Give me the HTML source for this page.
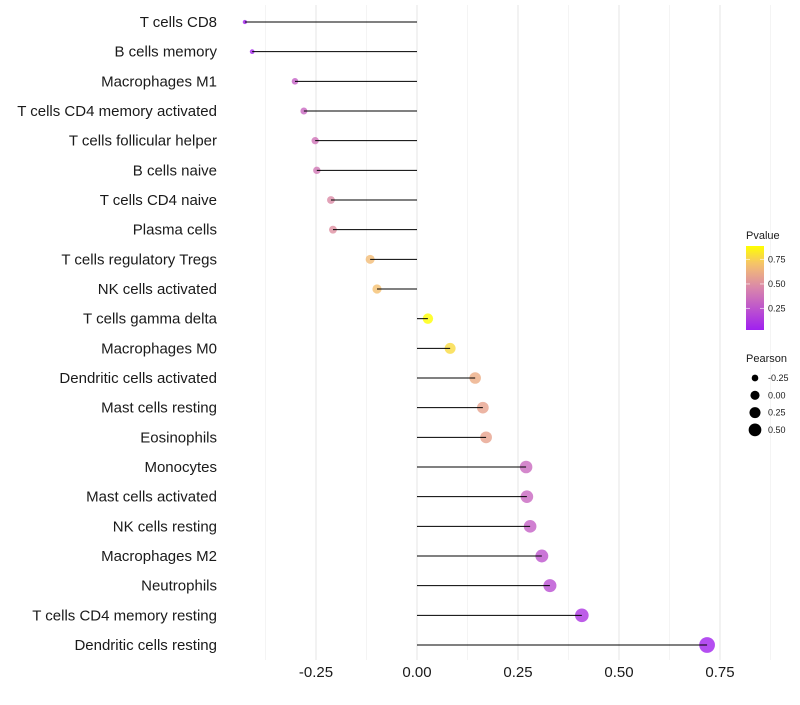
<!DOCTYPE html>
<html><head><meta charset="utf-8"><style>
body{margin:0;background:#fff;font-family:"Liberation Sans",sans-serif}
svg text{font-family:"Liberation Sans",sans-serif}
</style></head><body>
<svg id="chart" width="800" height="700"></svg>
<script>
const categories=["T cells CD8","B cells memory","Macrophages M1","T cells CD4 memory activated","T cells follicular helper","B cells naive","T cells CD4 naive","Plasma cells","T cells regulatory  Tregs ","NK cells activated","T cells gamma delta","Macrophages M0","Dendritic cells activated","Mast cells resting","Eosinophils","Monocytes","Mast cells activated","NK cells resting","Macrophages M2","Neutrophils","T cells CD4 memory resting","Dendritic cells resting"];
const pearson=[-0.426,-0.408,-0.302,-0.28,-0.252,-0.248,-0.213,-0.208,-0.116,-0.099,0.027,0.082,0.144,0.163,0.171,0.27,0.272,0.28,0.309,0.329,0.408,0.718];
const pvalue=[0.04,0.06,0.3,0.33,0.38,0.4,0.48,0.5,0.68,0.7,0.89,0.78,0.62,0.58,0.58,0.34,0.33,0.3,0.25,0.22,0.12,0.04];
const xTicks=[-0.25,0,0.25,0.5,0.75];
const xTickLabels=["-0.25","0.00","0.25","0.50","0.75"];
const legendP=[0.25,0.5,0.75];
const legendPearson=[-0.25,0,0.25,0.5];

const NS="http://www.w3.org/2000/svg";
const svg=document.getElementById('chart');
function mk(t,a,p){const e=document.createElementNS(NS,t);for(const k in a)e.setAttribute(k,a[k]);(p||svg).appendChild(e);return e;}
const x=v=>417+v*404;
const y=i=>22+i*(623/21);
const rad=v=>Math.sqrt(Math.max(1,26+50*v));
const stops=[[0.03,[160,32,240]],[0.45,[216,132,173]],[0.7,[245,192,112]],[0.89,[255,255,0]]];
function col(p){if(p<=stops[0][0])return `rgb(${stops[0][1]})`;for(let i=1;i<stops.length;i++){if(p<=stops[i][0]){const t=(p-stops[i-1][0])/(stops[i][0]-stops[i-1][0]);const c=stops[i-1][1].map((v,j)=>Math.round(v+(stops[i][1][j]-v)*t));return `rgb(${c})`;}}return `rgb(${stops[stops.length-1][1]})`;}

for(let k=-3;k<=7;k++){const v=k*0.125;const major=k%2===0;const gl=mk('line',{x1:x(v),x2:x(v),y1:5,y2:660,stroke:major?'#e6e6e6':'#f0f0f0','stroke-width':major?1:0.7});

}
for(let i=0;i<categories.length;i++){
 const yy=y(i);
 const lab=mk('text',{x:217,y:yy+5,'text-anchor':'end','font-size':15,fill:'#1a1a1a'});lab.textContent=categories[i];
 
 
 const c=mk('circle',{cx:x(pearson[i]),cy:yy,r:rad(pearson[i]),fill:col(pvalue[i]),'fill-opacity':0.8});
 
 
 const s=mk('line',{x1:x(0),x2:x(pearson[i]),y1:yy,y2:yy,stroke:'#000','stroke-width':1});
 
 
}
xTicks.forEach((v,i)=>{const t=mk('text',{x:x(v),y:677,'text-anchor':'middle','font-size':15,fill:'#1a1a1a'});t.textContent=xTickLabels[i];

});

const lt=mk('text',{x:746,y:239,'font-size':11,fill:'#1a1a1a'});lt.textContent='Pvalue';


const defs=mk('defs',{});const g=mk('linearGradient',{id:'pg',x1:0,y1:1,x2:0,y2:0},defs);
for(let k=0;k<=10;k++){const p=0.03+k*(0.86/10);mk('stop',{offset:k/10,'stop-color':col(p)},g);}
const py=p=>330-(p-0.03)*98;
const bar=mk('rect',{x:746,y:246,width:18,height:84,fill:'url(#pg)'});


legendP.forEach(p=>{mk('line',{x1:746,x2:750,y1:py(p),y2:py(p),stroke:'#fff','stroke-opacity':0.6});mk('line',{x1:760,x2:764,y1:py(p),y2:py(p),stroke:'#fff','stroke-opacity':0.6});
const t=mk('text',{x:768,y:py(p)+3,'font-size':9,fill:'#1a1a1a'});t.textContent=p.toFixed(2);

});
const lt2=mk('text',{x:746,y:362,'font-size':11,fill:'#1a1a1a'});lt2.textContent='Pearson';


legendPearson.forEach((v,i)=>{const yy=378+i*17.3;const c=mk('circle',{cx:755,cy:yy,r:Math.sqrt(20.8+39.1*v),fill:'#000'});


const t=mk('text',{x:768,y:yy+3,'font-size':9,fill:'#1a1a1a'});t.textContent=v.toFixed(2);

});
</script></body></html>
